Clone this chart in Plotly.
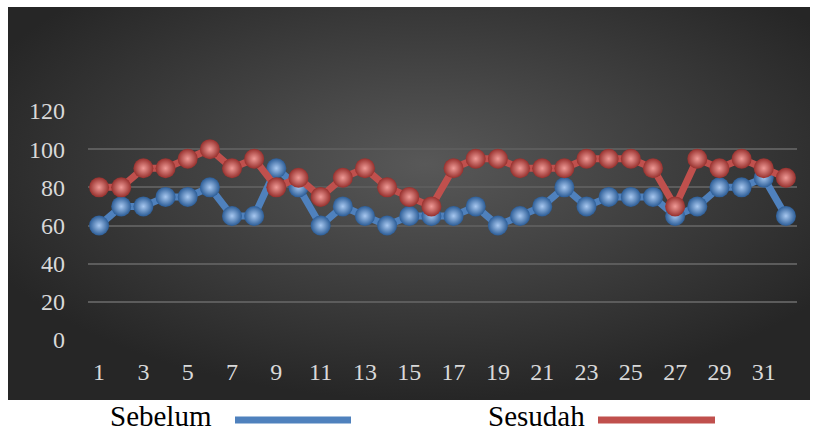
import base64
import plotly.graph_objects as go

# Data
days = list(range(1, 33))
sebelum = [60, 70, 70, 75, 75, 80, 65, 65, 90, 80, 60, 70, 65, 60, 65, 65,
           65, 70, 60, 65, 70, 80, 70, 75, 75, 75, 65, 70, 80, 80, 85, 65]
sesudah = [80, 80, 90, 90, 95, 100, 90, 95, 80, 85, 75, 85, 90, 80, 75, 70,
           90, 95, 95, 90, 90, 90, 95, 95, 95, 90, 70, 95, 90, 95, 90, 85]
y_ticks = [0, 20, 40, 60, 80, 100, 120]
x_ticks = list(range(1, 33, 2))

W, H = 816, 433
ML, MR, MT, MB = 88, 19, 111, 93
PW, PH = W - ML - MR, H - MT - MB


def px_x(px):
    return (px - ML) / PW


def px_y(py):
    return (H - MB - py) / PH


# Radial dark background panel
svg = (
    '<svg xmlns="http://www.w3.org/2000/svg" width="800" height="400" '
    'preserveAspectRatio="none">'
    '<defs><radialGradient id="g" cx="52%" cy="40%" r="60%">'
    '<stop offset="0%" stop-color="#585858"/>'
    '<stop offset="100%" stop-color="#262626"/>'
    '</radialGradient></defs>'
    '<rect width="800" height="400" fill="url(#g)"/></svg>'
)
bg_src = "data:image/svg+xml;base64," + base64.b64encode(svg.encode()).decode()

fig = go.Figure()

series = [
    ("Sebelum", sebelum, "#4F81BD", "#2b5c96", "#a8c8f0"),
    ("Sesudah", sesudah, "#C0504D", "#96302d", "#f09a96"),
]
for name, vals, col, edge, hi in series:
    fig.add_trace(go.Scatter(
        x=days, y=vals, name=name, mode="lines+markers",
        line=dict(color=col, width=7),
        marker=dict(size=20, color=edge,
                    gradient=dict(type="radial", color=hi),
                    line=dict(width=0)),
        cliponaxis=False, showlegend=False,
    ))

grid_col = "#5c5c5c"
tick_font = dict(family="Liberation Serif", size=24, color="#d9d9d9")

fig.update_xaxes(
    range=[0.5, 32.5], tickmode="array", tickvals=x_ticks,
    ticktext=[str(v) for v in x_ticks], showgrid=False, zeroline=False,
    showline=False, ticks="", tickfont=tick_font, ticklabelstandoff=15,
)
fig.update_yaxes(
    range=[0, 120], tickmode="array", tickvals=y_ticks,
    ticktext=[str(v) for v in y_ticks], showgrid=True, gridcolor=grid_col,
    gridwidth=2, zeroline=False, showline=False, ticks="",
    tickfont=tick_font, ticklabelstandoff=22,
)

# Legend drawn below the panel
legend_font = dict(family="Liberation Serif", size=29, color="#000000")
annotations = [
    dict(text="Sebelum", x=px_x(108), y=px_y(416), xref="paper", yref="paper",
         xanchor="left", yanchor="middle", showarrow=False, font=legend_font),
    dict(text="Sesudah", x=px_x(486), y=px_y(416), xref="paper", yref="paper",
         xanchor="left", yanchor="middle", showarrow=False, font=legend_font),
]
shapes = [
    dict(type="line", xref="paper", yref="paper", x0=px_x(235), x1=px_x(351),
         y0=px_y(420), y1=px_y(420), line=dict(color="#4F81BD", width=7)),
    dict(type="line", xref="paper", yref="paper", x0=px_x(598), x1=px_x(715),
         y0=px_y(420), y1=px_y(420), line=dict(color="#C0504D", width=7)),
]

fig.update_layout(
    width=W, height=H,
    margin=dict(l=ML, r=MR, t=MT, b=MB, autoexpand=False),
    paper_bgcolor="white", plot_bgcolor="rgba(0,0,0,0)",
    images=[dict(source=bg_src, xref="paper", yref="paper",
                 x=px_x(8), y=px_y(7), sizex=(810 - 8) / PW,
                 sizey=(400 - 7) / PH, xanchor="left", yanchor="top",
                 sizing="stretch", layer="below")],
    annotations=annotations, shapes=shapes,
)

fig.write_html("out.html")
